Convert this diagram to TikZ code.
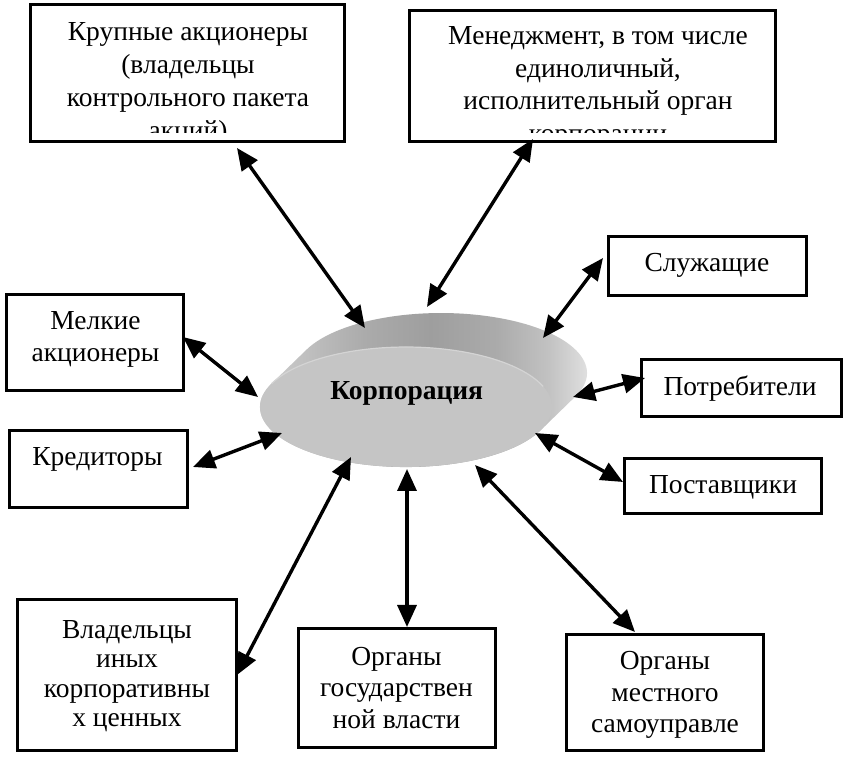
\documentclass[tikz,border=0pt]{standalone}
\usepackage{fontspec}
\setmainfont{Liberation Serif}
\usetikzlibrary{arrows.meta,shapes.geometric}
\definecolor{face}{HTML}{C5C5C5}
\definecolor{rim}{HTML}{D4D4D4}
\pgfdeclarehorizontalshading{bandshade}{100bp}{%
  color(0bp)=(black!17); color(25bp)=(black!17); color(31bp)=(black!22);
  color(42bp)=(black!33); color(51bp)=(black!38); color(60bp)=(black!33);
  color(67bp)=(black!24); color(73bp)=(black!11); color(75bp)=(black!9);
  color(100bp)=(black!9)}
\tikzset{
  bx/.style={draw, line width=3pt, inner sep=0pt, fill=white},
  lbl/.style={align=center, inner sep=0pt},
  fs/.style={font=\fontsize{27.5}{#1}\selectfont},
  arr/.style={line width=3.4pt, {Triangle[length=22pt,width=19pt]}-{Triangle[length=22pt,width=19pt]}}
}
\begin{document}
\begin{tikzpicture}[x=1pt,y=1pt]
\useasboundingbox (0,0) rectangle (845,759);
\fill[white] (0,0) rectangle (845,759);

% corporation disc: side band
\path[shading=bandshade]
  (271.5,375.3) arc[start angle=157.1, end angle=337.1, x radius=146pt, y radius=60pt]
  -- ++(35,34) arc[start angle=-22.9, end angle=157.1, x radius=146pt, y radius=60pt]
  -- cycle;
% front face
\node[ellipse, fill=face, minimum width=292pt, minimum height=120pt, inner sep=0pt] (corp) at (406,352) {};
\draw[rim, line width=1.2pt] (271.5,375.3) arc[start angle=157.1, end angle=20, x radius=146pt, y radius=60pt];
\node[lbl, font=\bfseries\fontsize{27.5}{32}\selectfont] (corpT) at (406.7,366.1) {\strut Корпорация};

% boxes
\node[bx, minimum width=314pt, minimum height=137pt] (krup) at (187.5,686) {};
\node[bx, minimum width=366pt, minimum height=131pt] (men) at (592.5,683) {};
\node[bx, minimum width=198pt, minimum height=59pt] (sluzh) at (707.5,493) {};
\node[bx, minimum width=200pt, minimum height=57pt] (potr) at (741.5,371) {};
\node[bx, minimum width=197pt, minimum height=55pt] (postav) at (723,273) {};
\node[bx, minimum width=177pt, minimum height=96pt] (melk) at (95,416.5) {};
\node[bx, minimum width=178pt, minimum height=77pt] (kred) at (98.5,290) {};
\node[bx, minimum width=219pt, minimum height=151pt] (vlad) at (127,84) {};
\node[bx, minimum width=197pt, minimum height=119pt] (gos) at (397,71) {};
\node[bx, minimum width=197pt, minimum height=116pt] (mestn) at (665,66.5) {};

% texts
\begin{scope}
\clip ([shift={(3,10.5)}]krup.south west) rectangle ([shift={(-3,-3)}]krup.north east);
\node[lbl, fs=33] (krupT) at (188,675.4) {\strut Крупные акционеры\\\strut (владельцы\\\strut контрольного пакета\\\strut акций)};
\end{scope}
\begin{scope}
\clip ([shift={(3,10)}]men.south west) rectangle ([shift={(-3,-3)}]men.north east);
\node[lbl, fs=32.5] (menT) at (598,671.75) {\strut Менеджмент, в том числе\\\strut единоличный,\\\strut исполнительный орган\\\strut корпорации};
\end{scope}
\node[lbl, fs=32] (sluzhT) at (707,493.4) {\strut Служащие};
\node[lbl, fs=32] (potrT) at (740,369.7) {\strut Потребители};
\node[lbl, fs=32] (postavT) at (723,272.1) {\strut Поставщики};
\node[lbl, fs=32] (melkT) at (95.5,419.4) {\strut Мелкие\\\strut акционеры};
\node[lbl, fs=32] (kredT) at (97.5,299.4) {\strut Кредиторы};
\node[lbl, fs=29.5] (vladT) at (127,82.35) {\strut Владельцы\\\strut иных\\\strut корпоративны\\\strut х ценных};
\node[lbl, fs=31.6] (gosT) at (396.5,68.7) {\strut Органы\\\strut государствен\\\strut ной власти};
\node[lbl, fs=31.4] (mestnT) at (665,63.9) {\strut Органы\\\strut местного\\\strut самоуправле};

% connectors
\draw[arr] ([shift={(49.5,-5)}]krup.south) -- ([shift={(-41,79)}]corp.center);
\draw[arr] ([shift={(-59.5,4)}]men.south) -- ([shift={(21,100)}]corp.center);
\draw[arr] ([shift={(-4,8)}]sluzh.west) -- ([shift={(137,69)}]corp.center);
\draw[arr] ([shift={(5,10)}]potr.west) -- ([shift={(167,10)}]corp.center);
\draw[arr] ([shift={(0,4)}]postav.west) -- ([shift={(129,-26)}]corp.center);
\draw[arr] ([shift={(-2,5.5)}]melk.east) -- ([shift={(-148,10)}]corp.center);
\draw[arr] ([shift={(4,2)}]kred.east) -- ([shift={(-124,-26)}]corp.center);
\draw[arr] ([shift={(-1,0)}]vlad.east) -- ([shift={(-55,-50)}]corp.center);
\draw[arr] ([shift={(10,0)}]gos.north) -- ([shift={(1,-62)}]corp.center);
\draw[arr] ([shift={(-30,1)}]mestn.north) -- ([shift={(69,-58)}]corp.center);
\end{tikzpicture}
\end{document}
